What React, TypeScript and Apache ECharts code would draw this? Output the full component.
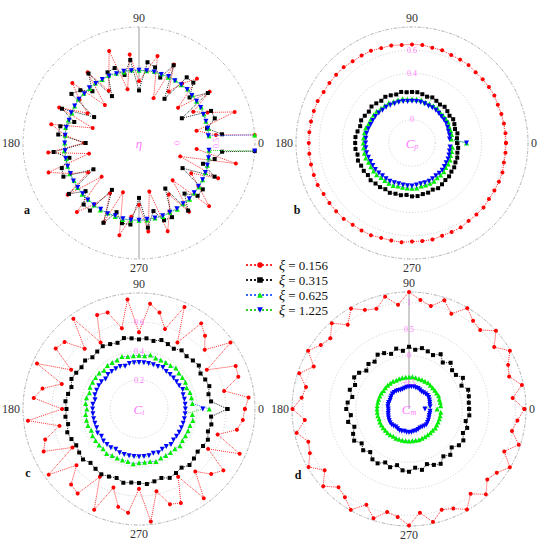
import React, { useEffect, useRef } from "react";
import * as echarts from "echarts";

const FONT = "'Liberation Serif', 'Times New Roman', serif";

const XI = ["0.156", "0.315", "0.625", "1.225"];

const ANG = [0,6,12,18,24,30,36,42,48,54,60,66,72,78,84,90,96,102,108,114,120,126,132,138,144,150,156,162,168,174,180,186,192,198,204,210,216,222,228,234,240,246,252,258,264,270,276,282,288,294,300,306,312,318,324,330,336,342,348,354,360];
const ANG_A = [4,6,12,18,24,30,36,42,48,54,60,66,72,78,84,90,96,102,108,114,120,126,132,138,144,150,156,162,168,174,180,186,192,198,204,210,216,222,228,234,240,246,252,258,264,270,276,282,288,294,300,306,312,318,324,330,336,342,348,354,356];

// panel a : eta
const A_RED = [1.0,
  0.50,0.26,0.80,0.47,0.31, 0.63,0.18,0.62,0.45,0.27, 0.61,0.11,0.65,0.44,0.30,
  0.65,0.21,0.75,0.46,0.28, 0.63,0.16,0.66,0.45,0.27, 0.63,0.13,0.66,0.46,0.21,
  0.68,0.16,0.73,0.47,0.26, 0.64,0.15,0.70,0.48,0.25, 0.62,0.17,0.72,0.46,0.30,
  0.65,0.14,0.70,0.47,0.27, 0.60,0.15,0.72,0.45,0.28, 0.62,0.06,0.78,0.25, null];
const A_BLACK = [null,
  0.58,0.40,0.53,0.52,0.14, 0.60,0.38,0.55,0.55,0.16, 0.60,0.39,0.50,0.55,0.18,
  0.58,0.40,0.52,0.50,0.20, 0.61,0.40,0.52,0.58,0.17, 0.59,0.38,0.54,0.55,0.19,
  0.61,0.42,0.55,0.57,0.18, 0.62,0.43,0.57,0.58,0.20, 0.63,0.44,0.56,0.56,0.21,
  0.60,0.40,0.55,0.55,0.18, 0.58,0.38,0.52,0.52,0.15, 0.57,0.37,0.50,0.58, 1.0];
const A_GREEN = [1.0,
  0.41,0.42,0.41,0.42,0.43,0.42,0.43,0.44,0.43,0.44,0.43,0.44,0.45,0.44,0.44,
  0.45,0.44,0.45,0.46,0.45,0.46,0.45,0.46,0.47,0.46,0.45,0.46,0.47,0.46,0.46,
  0.47,0.46,0.47,0.48,0.47,0.48,0.49,0.48,0.49,0.50,0.49,0.50,0.51,0.50,0.50,
  0.50,0.49,0.50,0.48,0.49,0.47,0.48,0.46,0.46,0.45,0.44,0.43,0.42,0.41, null];
const A_BLUE = [null,
  0.40,0.41,0.41,0.41,0.42,0.42,0.42,0.43,0.43,0.43,0.44,0.43,0.44,0.44,0.44,
  0.44,0.45,0.44,0.45,0.45,0.45,0.46,0.45,0.46,0.46,0.46,0.45,0.46,0.46,0.46,
  0.46,0.47,0.47,0.47,0.48,0.48,0.48,0.49,0.49,0.49,0.50,0.49,0.50,0.50,0.50,
  0.49,0.49,0.49,0.48,0.48,0.47,0.47,0.46,0.45,0.45,0.44,0.43,0.42,0.41, 1.0];

// panel b : Cp
const B_RED = [0.61,0.61,0.61,0.61,0.61,0.62,0.62,0.62,0.62,0.63,0.63,0.63,0.64,0.64,0.65,0.65,
  0.65,0.66,0.66,0.67,0.67,0.67,0.68,0.68,0.68,0.68,0.69,0.69,0.69,0.69,0.69,
  0.69,0.69,0.69,0.69,0.68,0.68,0.68,0.68,0.67,0.67,0.67,0.66,0.66,0.66,0.65,
  0.65,0.65,0.64,0.64,0.64,0.63,0.63,0.63,0.62,0.62,0.62,0.62,0.61,0.61,0.61];
const B_BLACK = [0.19,0.19,0.20,0.19,0.20,0.21,0.20,0.21,0.22,0.21,0.22,0.23,0.22,0.23,0.24,0.24,
  0.24,0.25,0.24,0.25,0.26,0.25,0.26,0.27,0.26,0.27,0.28,0.27,0.28,0.29,0.29,
  0.29,0.28,0.29,0.28,0.28,0.27,0.28,0.27,0.27,0.26,0.27,0.26,0.26,0.25,0.26,
  0.26,0.25,0.25,0.24,0.25,0.24,0.23,0.23,0.22,0.22,0.21,0.21,0.20,0.20,0.19];
const B_GREEN = [0.27,
  0.14,0.15,0.15,0.15,0.16,0.16,0.16,0.16,0.17,0.17,0.17,0.17,0.18,0.18,0.18,
  0.18,0.19,0.19,0.19,0.20,0.20,0.20,0.21,0.21,0.21,0.21,0.22,0.22,0.22,0.22,
  0.22,0.22,0.22,0.21,0.21,0.21,0.21,0.20,0.20,0.20,0.20,0.19,0.19,0.19,0.19,
  0.19,0.18,0.18,0.18,0.18,0.17,0.17,0.17,0.16,0.16,0.16,0.15,0.15,0.15, null];
const B_BLUE = [0.27,
  0.125,0.13,0.13,0.135,0.14,0.14,0.14,0.145,0.15,0.15,0.15,0.155,0.16,0.16,0.16,
  0.16,0.165,0.17,0.17,0.175,0.18,0.18,0.185,0.19,0.19,0.19,0.195,0.20,0.20,0.20,
  0.20,0.20,0.195,0.19,0.19,0.19,0.185,0.18,0.18,0.18,0.175,0.17,0.17,0.17,0.17,
  0.165,0.16,0.16,0.16,0.155,0.15,0.15,0.15,0.145,0.14,0.14,0.135,0.13,0.13, null];

// panel c : Ct
const C_RED = [0.73,0.76,0.60,0.72,0.73, 0.54,0.78,0.61,0.68,0.73, 0.53,0.77,0.58,0.68,0.73,
  0.53,0.76,0.57,0.70,0.71, 0.53,0.77,0.56,0.69,0.71, 0.54,0.77,0.56,0.68,0.73,
  0.53,0.77,0.56,0.68,0.72, 0.53,0.77,0.58,0.70,0.72, 0.54,0.76,0.57,0.69,0.72,
  0.55,0.78,0.58,0.69,0.71, 0.54,0.76,0.58,0.67,0.72, 0.55,0.76,0.57,0.69,0.72, 0.73];
const C_BLACK = [0.61,
  0.50,0.49,0.51,0.50,0.49,0.51,0.50,0.49,0.50,0.48,0.49,0.50,0.48,0.49,0.48,
  0.49,0.50,0.48,0.49,0.50,0.49,0.48,0.50,0.49,0.50,0.51,0.49,0.50,0.51,0.50,
  0.51,0.50,0.52,0.51,0.50,0.51,0.52,0.50,0.51,0.52,0.51,0.50,0.52,0.51,0.51,
  0.52,0.51,0.50,0.52,0.51,0.50,0.52,0.51,0.50,0.51,0.52,0.50,0.51,0.50, 0.61];
const C_GREEN = [0.485,
  0.37,0.37,0.37,0.36,0.37,0.37,0.37,0.38,0.37,0.37,0.37,0.37,0.38,0.37,0.37,
  0.37,0.37,0.38,0.37,0.37,0.37,0.36,0.37,0.37,0.37,0.37,0.36,0.37,0.37,0.36,
  0.37,0.37,0.37,0.36,0.37,0.37,0.37,0.37,0.38,0.37,0.37,0.37,0.37,0.38,0.37,
  0.37,0.37,0.38,0.37,0.37,0.37,0.37,0.38,0.37,0.37,0.37,0.37,0.38,0.37, null];
const C_BLUE = [0.32,0.32,0.32,0.32,0.33,0.32,0.32,0.32,0.32,0.32,0.33,0.32,0.32,0.32,0.32,
  0.32,0.32,0.32,0.31,0.32,0.32,0.32,0.32,0.31,0.32,0.32,0.32,0.32,0.31,0.32,
  0.32,0.32,0.32,0.32,0.32,0.33,0.32,0.33,0.33,0.33,0.32,0.33,0.33,0.33,0.33,
  0.33,0.33,0.33,0.32,0.33,0.32,0.32,0.33,0.32,0.32,0.32,0.32,0.32,0.32,0.32, 0.44];

// panel d : Cm
const D_RED = [1.17,0.96,1.17,0.98,1.04, 1.19,0.98,1.20,1.00,1.05, 1.19,0.96,1.15,0.98,1.06,
  1.20,0.97,1.16,0.98,1.04, 1.18,0.96,1.17,0.99,1.05, 1.19,0.96,1.17,0.98,1.03,
  1.19,0.97,1.16,0.99,1.04, 1.18,0.96,1.17,0.98,1.05, 1.19,0.97,1.16,0.98,1.04,
  1.19,0.96,1.17,0.99,1.05, 1.18,0.97,1.16,0.98,1.04, 1.19,0.96,1.17,0.98,1.05, 1.17];
const D_BLACK = [0.13,0.13,0.15,0.17,0.08,0.17,0.09,0.09,0.17,0.08,0.19,0.11,0.14,0.17,0.12,0.17,
  0.10,0.16,0.09,0.15,0.18,0.10,0.14,0.08,0.16,0.19,0.11,0.17,0.09,0.16,0.18,
  0.10,0.17,0.08,0.15,0.19,0.10,0.16,0.09,0.17,0.18,0.10,0.15,0.08,0.16,0.18,
  0.11,0.17,0.09,0.15,0.19,0.10,0.16,0.08,0.16,0.18,0.11,0.15,0.09,0.14,0.13];
const D_GREEN = [-0.47,
  -0.40,-0.40,-0.40,-0.39,-0.40,-0.40,-0.40,-0.40,-0.39,-0.40,-0.40,-0.40,-0.40,-0.39,-0.40,
  -0.40,-0.40,-0.40,-0.41,-0.40,-0.40,-0.40,-0.40,-0.41,-0.40,-0.40,-0.40,-0.40,-0.40,-0.40,
  -0.40,-0.40,-0.41,-0.40,-0.40,-0.40,-0.40,-0.40,-0.40,-0.41,-0.40,-0.40,-0.40,-0.40,-0.40,
  -0.40,-0.40,-0.39,-0.40,-0.40,-0.40,-0.40,-0.40,-0.39,-0.40,-0.40,-0.40,-0.40,-0.40, null];
const D_BLUE = [-0.70,
  -0.60,-0.60,-0.59,-0.58,-0.57,-0.57,-0.58,-0.59,-0.60,-0.59,-0.58,-0.58,-0.57,-0.58,-0.58,
  -0.59,-0.60,-0.61,-0.61,-0.60,-0.59,-0.58,-0.58,-0.59,-0.60,-0.61,-0.60,-0.60,-0.60,-0.61,
  -0.61,-0.60,-0.59,-0.58,-0.57,-0.56,-0.56,-0.57,-0.58,-0.57,-0.56,-0.56,-0.57,-0.56,-0.56,
  -0.56,-0.57,-0.57,-0.58,-0.59,-0.58,-0.57,-0.56,-0.57,-0.58,-0.59,-0.60,-0.60,-0.60, null];

// radial tick labels
const TICKS_A = [0, 0.5];
const TICKS_B = [0, 0.4, 0.6];
const TICKS_C = [0.2, 0.4, 0.6];
const TICKS_D = [-0.5, 0, 0.5, 1];

const STYLES = [
  { symbol: "circle", size: 4, color: "#ff0000", line: "#ff3030", rotate: 0 },
  { symbol: "rect", size: 4, color: "#000000", line: "#222222", rotate: 0 },
  { symbol: "triangle", size: 5, color: "#00ee00", line: "#3366ff", rotate: 0 },
  { symbol: "triangle", size: 5, color: "#0000ff", line: "#33cc33", rotate: 180 },
];

const PANELS = [
  { center: [139, 143], radius: 116, min: -0.5, max: 1.0, interval: 0.5, split: false, ang: ANG_A,
    series: [A_RED, A_BLACK, A_GREEN, A_BLUE], ticks: TICKS_A, tickAngle: 0, rotate: 90,
    title: "{i|η}", guide: [[[0.32, 90], [1.0, 90]], [[0.22, 270], [1.0, 270]]] },
  { center: [412, 143], radius: 116, min: -0.2, max: 0.8, interval: 0.2, split: true, ang: ANG,
    series: [B_RED, B_BLACK, B_GREEN, B_BLUE], ticks: TICKS_B, tickAngle: 90, rotate: 0,
    title: "{i|C}{s|p}", guide: [] },
  { center: [139, 409], radius: 116, min: 0, max: 0.8, interval: 0.2, split: true, ang: ANG,
    series: [C_RED, C_BLACK, C_GREEN, C_BLUE], ticks: TICKS_C, tickAngle: 90, rotate: 0,
    title: "{i|C}{s|t}", guide: [] },
  { center: [409, 409], radius: 117, min: -1, max: 1.2, interval: 0.5, split: true, ang: ANG,
    series: [D_RED, D_BLACK, D_GREEN, D_BLUE], ticks: TICKS_D, tickAngle: 90, rotate: 0,
    title: "{i|C}{s|m}", guide: [[[-1, 90], [1.2, 90]]] },
];

const LETTERS = [
  { t: "a", x: 27, y: 210 },
  { t: "b", x: 297, y: 210 },
  { t: "c", x: 28, y: 473 },
  { t: "d", x: 298, y: 475 },
];

function buildOption() {
  const polar: any[] = [];
  const angleAxis: any[] = [];
  const radiusAxis: any[] = [];
  const series: any[] = [];
  PANELS.forEach((p, k) => {
    polar.push({ center: p.center, radius: p.radius });
    angleAxis.push({
      polarIndex: k, type: "value", min: 0, max: 360, interval: 90, startAngle: 0, clockwise: false,
      axisLine: { show: true, lineStyle: { color: "#b4b4b4", width: 1, type: [3, 2, 1, 2] } },
      axisTick: { show: false },
      splitLine: { show: false },
      axisLabel: { show: true, margin: 3, color: "#333", fontSize: 12, fontFamily: FONT },
    });
    radiusAxis.push({
      polarIndex: k, type: "value", min: p.min, max: p.max, interval: p.interval,
      axisLine: { show: false }, axisTick: { show: false }, axisLabel: { show: false },
      splitLine: { show: p.split, lineStyle: { color: "#cccccc", width: 1, type: [1, 2] } },
    });
    p.guide.forEach((g) => {
      series.push({
        type: "line", coordinateSystem: "polar", polarIndex: k, data: g, symbol: "none",
        lineStyle: { color: "#bdbdbd", width: 1.5 }, silent: true, z: 1,
      });
    });
    p.series.forEach((vals, s) => {
      const st = STYLES[s];
      const data = p.ang.map((a, i) => [vals[i], a]).filter((d) => d[0] !== null);
      series.push({
        name: XI[s], type: "line", coordinateSystem: "polar", polarIndex: k, data,
        symbol: st.symbol, symbolSize: st.size, symbolRotate: st.rotate, showSymbol: true,
        itemStyle: { color: st.color },
        lineStyle: { color: st.line, width: 1, type: "dotted" },
        z: 3 + s,
      });
    });
    series.push({
      type: "scatter", coordinateSystem: "polar", polarIndex: k, silent: true, z: 10,
      symbolSize: 0, data: p.ticks.map((t) => [t, p.tickAngle]),
      label: {
        show: true, position: "inside", rotate: p.rotate, color: "#ff55ff", fontSize: 8, fontFamily: FONT,
        formatter: (q: any) => String(q.value[0]),
      },
    });
    series.push({
      type: "scatter", coordinateSystem: "polar", polarIndex: k, silent: true, z: 10,
      symbolSize: 0, data: [[p.min, 0]],
      label: {
        show: true, position: "inside", formatter: p.title,
        rich: {
          i: { fontFamily: FONT, fontStyle: "italic", fontSize: 13, color: "#ff55ff" },
          s: { fontFamily: FONT, fontStyle: "italic", fontSize: 8, color: "#ff55ff", verticalAlign: "bottom", padding: [6, 0, 0, 0] },
        },
      },
    });
  });

  return {
    animation: false,
    backgroundColor: "#ffffff",
    polar, angleAxis, radiusAxis, series,
    legend: {
      data: XI, orient: "vertical", left: 240, top: 253, itemGap: 1, itemWidth: 28, itemHeight: 7,
      formatter: (name: string) => `{x|ξ}{t| = ${name}}`,
      textStyle: {
        fontFamily: FONT, fontSize: 13, color: "#111",
        rich: {
          x: { fontFamily: FONT, fontStyle: "italic", fontSize: 14, color: "#111" },
          t: { fontFamily: FONT, fontSize: 13, color: "#111" },
        },
      },
    },
    graphic: LETTERS.map((l) => ({
      type: "text", x: l.x, y: l.y,
      style: { text: l.t, fontFamily: FONT, fontWeight: "bold", fontSize: 12, fill: "#111", textAlign: "center", textVerticalAlign: "middle" },
    })),
  };
}

export default function App() {
  const ref = useRef<HTMLDivElement>(null);
  useEffect(() => {
    document.body.style.margin = "0";
    if (!ref.current) return;
    const chart = echarts.init(ref.current, undefined, { renderer: "svg" });
    chart.setOption(buildOption() as any);
    return () => chart.dispose();
  }, []);
  return <div ref={ref} style={{ width: 550, height: 548 }} />;
}
